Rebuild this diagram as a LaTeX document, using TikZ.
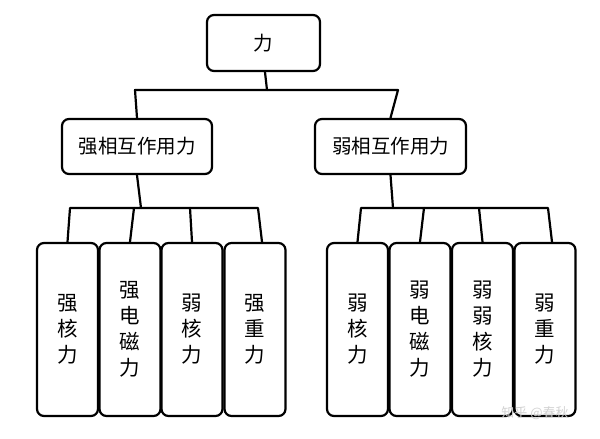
\documentclass[tikz,border=0pt]{standalone}
\usepackage{fontspec}
\newfontfamily\cjk{Noto Sans CJK SC}
\usetikzlibrary{calc}
\begin{document}
\begin{tikzpicture}[x=1pt,y=-1pt,
  box/.style={draw, line width=2.2pt, rounded corners=7pt, fill=white, inner sep=0pt, font=\cjk\fontsize{19.5}{23}\selectfont},
  vbox/.style={box, align=center, minimum width=61pt, minimum height=173pt, font=\cjk\fontsize{20.5}{26}\selectfont},
  conn/.style={line width=2.2pt, line cap=round, line join=round}]
\useasboundingbox (0,0) rectangle (600,439);
\fill[white] (0,0) rectangle (600,439);
% nodes
\node[box, minimum width=113pt, minimum height=56pt] (top) at (263.5,43) {力};
\node[box, minimum width=150pt, minimum height=55pt] (mL) at (137,146.5) {强相互作用力};
\node[box, minimum width=151pt, minimum height=55pt] (mR) at (390.5,146.5) {弱相互作用力};
\node[vbox] (b1) at (67.5,329.5) {强\\核\\力};
\node[vbox] (b2) at (130,329.5) {强\\电\\磁\\力};
\node[vbox] (b3) at (192,329.5) {弱\\核\\力};
\node[vbox] (b4) at (255,329.5) {强\\重\\力};
\node[vbox] (b5) at (357.5,329.5) {弱\\核\\力};
\node[vbox] (b6) at (420,329.5) {弱\\电\\磁\\力};
\node[vbox] (b7) at (482.5,329.5) {弱\\弱\\核\\力};
\node[vbox] (b8) at (545,329.5) {弱\\重\\力};
% junction coordinates
\coordinate (j0) at (267,90);
\coordinate (t1) at (135,90);
\coordinate (t2) at (398,90);
\coordinate (jL) at (141,208);
\coordinate (l1) at (70,208);
\coordinate (l2) at (134,208);
\coordinate (l3) at (190,208);
\coordinate (l4) at (258,208);
\coordinate (jR) at (393,208);
\coordinate (r1) at (361,208);
\coordinate (r2) at (424,208);
\coordinate (r3) at (479,208);
\coordinate (r4) at (548,208);
% connectors
\draw[conn] ([xshift=1.5pt]top.south) -- (j0);
\draw[conn] (mL.north) -- (t1) -- (t2) -- (mR.north);
\draw[conn] (mL.south) -- (jL);
\draw[conn] (b1.north) -- (l1) -- (l4) -- ([xshift=7pt]b4.north);
\draw[conn] (l2) -- (b2.north);
\draw[conn] (l3) -- (b3.north);
\draw[conn] (mR.south) -- (jR);
\draw[conn] (b5.north) -- (r1) -- (r4) -- ([xshift=7pt]b8.north);
\draw[conn] (r2) -- (b6.north);
\draw[conn] (r3) -- (b7.north);
% watermark
\node[text=gray!35, font=\cjk\fontsize{13}{13}\selectfont, inner sep=0pt] (wm) at (535,413) {知乎 @春秋};
\end{tikzpicture}
\end{document}
